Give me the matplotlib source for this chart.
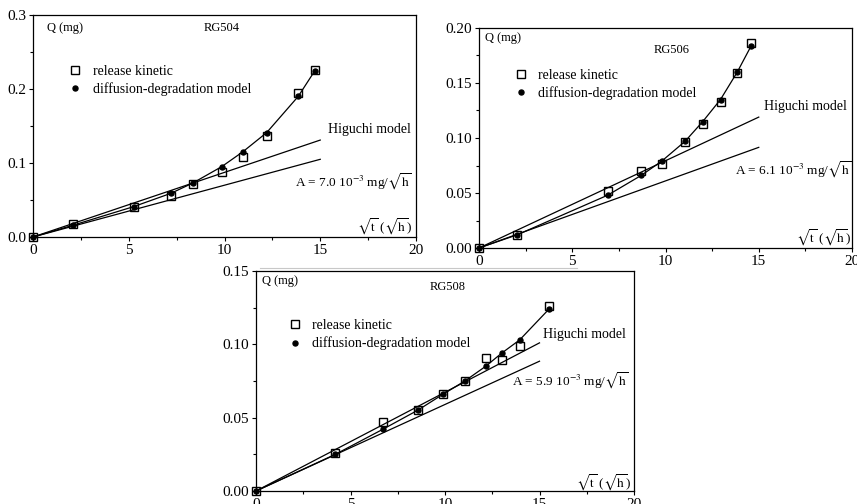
import matplotlib
matplotlib.use("Agg")
import matplotlib.pyplot as plt
from matplotlib.lines import Line2D
from matplotlib.patches import Rectangle
from matplotlib.ticker import MultipleLocator, FormatStrFormatter

plt.rcParams['font.family'] = ['Liberation Serif', 'DejaVu Serif']
plt.rcParams['mathtext.fontset'] = 'stix'
plt.rcParams['font.size'] = 9

# ---------------- data ----------------
# RG504
x504 = [0, 2.1, 5.25, 7.2, 8.35, 9.85, 10.95, 12.2, 13.85, 14.7]
rel504 = [0.0, 0.017, 0.041, 0.056, 0.072, 0.088, 0.108, 0.137, 0.194, 0.226]
mod504 = [0.0, 0.016, 0.041, 0.059, 0.073, 0.095, 0.115, 0.141, 0.190, 0.224]
hig_x504 = [0, 15]
hig_up504 = [0, 0.131]
hig_lo504 = [0, 0.105]

# RG506
x506 = [0, 2.05, 6.9, 8.7, 9.8, 11.05, 12.0, 12.95, 13.85, 14.6]
rel506 = [0.0, 0.012, 0.052, 0.070, 0.076, 0.096, 0.113, 0.133, 0.159, 0.186]
mod506 = [0.0, 0.012, 0.048, 0.066, 0.079, 0.097, 0.115, 0.135, 0.160, 0.184]
hig_x506 = [0, 15]
hig_up506 = [0, 0.119]
hig_lo506 = [0, 0.0915]

# RG508
x508 = [0, 4.2, 6.7, 8.55, 9.9, 11.05, 12.15, 13.0, 13.95, 15.5]
rel508 = [0.0, 0.026, 0.047, 0.055, 0.066, 0.075, 0.091, 0.089, 0.099, 0.126]
mod508 = [0.0, 0.025, 0.042, 0.055, 0.066, 0.075, 0.085, 0.094, 0.103, 0.124]
hig_x508 = [0, 15]
hig_up508 = [0, 0.101]
hig_lo508 = [0, 0.0885]

names = ['RG504', 'RG506', 'RG508']
A_labels = [r'A = 7.0 10$^{\mathrm{-3}}$ mg/$\sqrt{\mathrm{h}}$',
            r'A = 6.1 10$^{\mathrm{-3}}$ mg/$\sqrt{\mathrm{h}}$',
            r'A = 5.9 10$^{\mathrm{-3}}$ mg/$\sqrt{\mathrm{h}}$']
ymaxes = [0.3, 0.2, 0.15]
ymajors = [0.1, 0.05, 0.05]
yfmts = ['%.1f', '%.2f', '%.2f']

W, H = 857, 504
fig = plt.figure(figsize=(W / 100, H / 100), dpi=100)

def rect(l, r, t, b):
    return [l / W, 1 - b / H, (r - l) / W, (b - t) / H]

ax1 = fig.add_axes(rect(33, 416, 15, 237), zorder=0)
ax2 = fig.add_axes(rect(479, 852, 28, 248), zorder=0)

# white paste-over area of the lower panel
fig.patches.append(Rectangle((200 / W, 0), 450 / W, 1 - 266 / H,
                             transform=fig.transFigure, facecolor='white',
                             edgecolor='none', zorder=0.5))
fig.lines.append(Line2D([260 / W, 577 / W], [1 - 268 / H, 1 - 268 / H],
                        transform=fig.transFigure, color='#c8c8c8', lw=0.8,
                        zorder=0.6))

ax3 = fig.add_axes(rect(256, 634, 271, 491), zorder=1)

panels = [
    (ax1, x504, rel504, mod504, hig_x504, hig_up504, hig_lo504),
    (ax2, x506, rel506, mod506, hig_x506, hig_up506, hig_lo506),
    (ax3, x508, rel508, mod508, hig_x508, hig_up508, hig_lo508),
]

# text placements (axes fractions)
txt = [
    dict(q=(0.036, 0.941), rg=(0.492, 0.941), leg=(0.092, 0.777), hig=(0.987, 0.482),
         A=(0.99, 0.248), ax=(0.99, 0.045)),
    dict(q=(0.016, 0.955), rg=(0.517, 0.900), leg=(0.093, 0.815), hig=(0.987, 0.641),
         A=(0.998, 0.355), ax=(0.998, 0.045)),
    dict(q=(0.016, 0.954), rg=(0.508, 0.927), leg=(0.084, 0.783), hig=(0.979, 0.712),
         A=(0.987, 0.502), ax=(0.992, 0.037)),
]

for i, (ax, x, rel, mod, hx, hup, hlo) in enumerate(panels):
    ax.plot(hx, hup, color='black', lw=0.9)
    ax.plot(hx, hlo, color='black', lw=0.9)
    h_rel, = ax.plot(x, rel, linestyle='none', marker='s', markersize=6,
                     markerfacecolor='none', markeredgecolor='black',
                     markeredgewidth=1.0, clip_on=False, zorder=3,
                     label='release kinetic')
    ax.plot(x, mod, color='black', lw=0.9, clip_on=False, zorder=4)
    h_mod, = ax.plot(x, mod, linestyle='none', marker='o', markersize=3.6,
                     color='black', clip_on=False, zorder=4,
                     label='diffusion-degradation model')
    ax.set_xlim(0, 20)
    ax.set_ylim(0, ymaxes[i])
    ax.xaxis.set_major_locator(MultipleLocator(5))
    ax.xaxis.set_minor_locator(MultipleLocator(2.5))
    ax.yaxis.set_major_locator(MultipleLocator(ymajors[i]))
    ax.yaxis.set_minor_locator(MultipleLocator(ymajors[i] / 2))
    ax.yaxis.set_major_formatter(FormatStrFormatter(yfmts[i]))
    ax.tick_params(which='major', direction='out', length=3, width=0.8,
                   labelsize=11, pad=2)
    ax.tick_params(which='minor', direction='out', length=2, width=0.8)
    for s in ax.spines.values():
        s.set_linewidth(0.9)
    t = txt[i]
    ax.text(*t['q'], 'Q (mg)', transform=ax.transAxes, ha='left', va='center', fontsize=9)
    ax.text(*t['rg'], names[i], transform=ax.transAxes, ha='center', va='center', fontsize=9)
    ax.text(*t['hig'], 'Higuchi model', transform=ax.transAxes, ha='right', va='center', fontsize=10)
    ax.text(*t['A'], A_labels[i], transform=ax.transAxes, ha='right', va='center', fontsize=9.5)
    ax.text(*t['ax'], r'$\sqrt{\mathrm{t}}$ ($\sqrt{\mathrm{h}}$)', transform=ax.transAxes,
            ha='right', va='center', fontsize=9.5)
    ax.legend(handles=[h_rel, h_mod], loc='upper left', bbox_to_anchor=t['leg'],
              frameon=False, fontsize=10, handlelength=1.0, handletextpad=0.75,
              borderpad=0, borderaxespad=0, labelspacing=0.35)

fig.savefig('out.png', dpi=100)
